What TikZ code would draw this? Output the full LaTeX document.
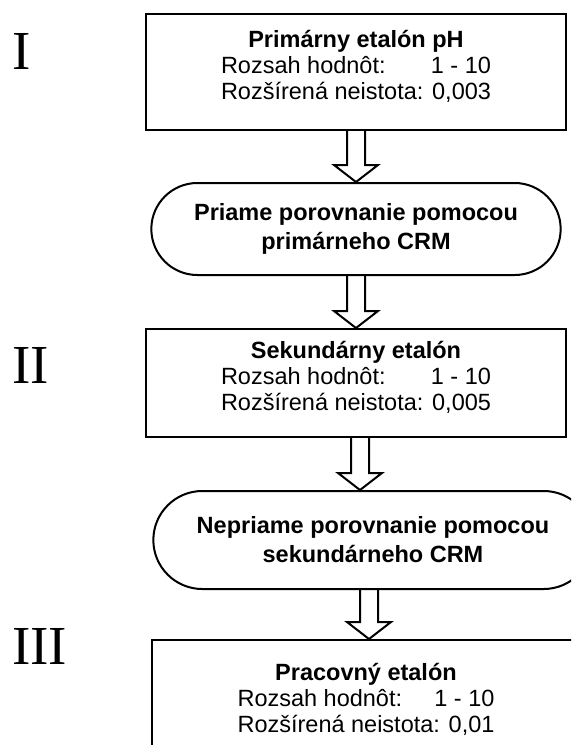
\documentclass[tikz,border=0pt]{standalone}
\usepackage{fontspec}
\setmainfont{Liberation Sans}
\newfontfamily\levelfont{Liberation Serif}
\usetikzlibrary{positioning, shapes.misc, calc}
\newlength{\unclen}
\tikzset{
  % Etalon boxes
  etalon/.style={
    draw, rectangle, line width=2pt, align=center,
    font=\fontsize{23.5}{26}\selectfont, text depth=15pt,
    minimum width=420pt, minimum height=116pt
  },
  % Comparison terminators
  compare/.style={
    draw, rounded rectangle, line width=2pt, align=center,
    font=\fontsize{23.5}{29}\selectfont\bfseries,
    minimum width=416pt, minimum height=92pt
  },
  % Roman level numbers
  level/.style={
    font=\levelfont\fontsize{55}{60}\selectfont,
    inner sep=0pt, anchor=west
  },
  % Hollow block arrow
  hollow/.style={
    draw, line width=2pt, line join=miter,
    to path={let \p1=(\tikztostart), \p2=(\tikztotarget) in
      (\x1-9pt,\y1) -- (\x1-9pt,\y2+17pt) -- (\x1-22pt,\y2+17pt) -- (\x1,\y2)
      -- (\x1+22pt,\y2+17pt) -- (\x1+9pt,\y2+17pt) -- (\x1+9pt,\y1)}
  },
}
\newcommand{\etalontext}[2]{%
  \textbf{#1}\\
  \settowidth{\unclen}{Rozšírená neistota: #2}%
  \makebox[\unclen]{Rozsah hodnôt:\hfill 1 - 10}\\
  Rozšírená neistota: #2}

\begin{document}
\begin{tikzpicture}
  \useasboundingbox (0,0) rectangle (571pt,-745pt);
  \clip (0,0) rectangle (571pt,-745pt);

  %% -- Etalons and comparisons --
  \node[etalon] (prim) at (356pt,-72pt) {\etalontext{Primárny etalón pH}{0,003}};
  \node[compare, below=51pt of prim] (cmpA) {Priame porovnanie pomocou\\primárneho CRM};
  \node[etalon, below=52pt of cmpA, minimum height=108pt] (sec) {\etalontext{Sekundárny etalón}{0,005}};
  \node[compare, below=52pt of sec, xshift=17pt, minimum width=446pt, minimum height=98pt] (cmpB)
    {Nepriame porovnanie pomocou\\sekundárneho CRM};
  \node[etalon, below=49pt of cmpB, xshift=-7pt, minimum width=428pt, minimum height=130pt] (work)
    {\etalontext{Pracovný etalón}{0,01}};

  %% -- Levels --
  \node[level] (lvlI)   at (12pt,-51pt)  {I};
  \node[level] (lvlII)  at (12pt,-365pt) {II};
  \node[level] (lvlIII) at (12pt,-646pt) {III};

  %% -- Arrows --
  \draw[hollow] (prim.south) to (cmpA.north);
  \draw[hollow] (cmpA.south) to (sec.north);
  \draw[hollow] ([xshift=4pt]sec.south) to (cmpB.north);
  \draw[hollow] ([xshift=-4pt]cmpB.south) to (work.north);
\end{tikzpicture}
\end{document}
